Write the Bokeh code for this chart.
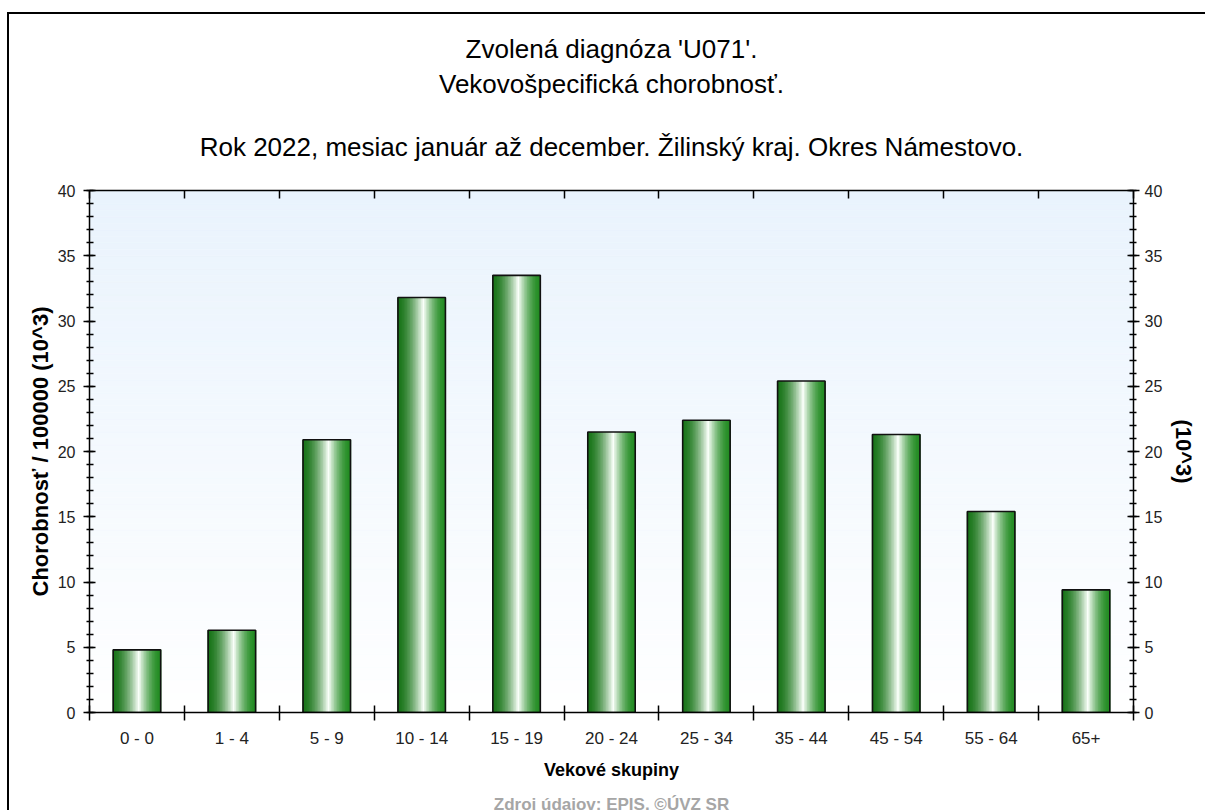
import numpy as np
from bokeh.plotting import figure
from bokeh.models import (Range1d, LinearAxis, FixedTicker, SingleIntervalTicker,
                          Title, ColumnDataSource)
from bokeh.embed import file_html
from bokeh.resources import INLINE

# ---------------- data ----------------
categories = ["0 - 0", "1 - 4", "5 - 9", "10 - 14", "15 - 19", "20 - 24",
              "25 - 34", "35 - 44", "45 - 54", "55 - 64", "65+"]
values = [4.8, 6.3, 20.9, 31.8, 33.5, 21.5, 22.4, 25.4, 21.3, 15.4, 9.4]
y_max = 40
y_step = 5
title_lines = ["Zvolená diagnóza 'U071'.",
               "Vekovošpecifická chorobnosť.",
               "Rok 2022, mesiac január až december. Žilinský kraj. Okres Námestovo."]
y_axis_label = "Chorobnosť / 100000 (10^3)"
y2_axis_label = "(10^3)"
x_axis_label = "Vekové skupiny"
source_note = "Zdroj údajov: EPIS, ©ÚVZ SR"

FONT = "Liberation Sans"

n = len(categories)
xs = list(range(n))

FRAME_W, FRAME_H = 1044, 522
BL, BR, BT, BB = 80, 72, 176, 98

p = figure(frame_width=FRAME_W, frame_height=FRAME_H,
           min_border_left=BL, min_border_right=BR, min_border_top=BT, min_border_bottom=BB,
           x_range=Range1d(-0.5, n - 0.5), y_range=Range1d(0, y_max),
           output_backend="svg", toolbar_location=None, x_axis_location=None,
           y_axis_location=None)
p.styles = {"border-left": "2px solid black", "border-top": "2px solid black",
            "margin-left": "7px", "margin-top": "12px"}
p.outline_line_color = None
p.xgrid.visible = False
p.ygrid.visible = False
p.background_fill_color = "white"
p.border_fill_color = "white"

# ---------------- background gradient ----------------
nstrip = 80
edges = np.linspace(0, y_max, nstrip + 1)
top_c = np.array([233, 243, 253])
bot_c = np.array([255, 255, 255])
cols = []
for i in range(nstrip):
    t = (i + 0.5) / nstrip
    c = bot_c + (top_c - bot_c) * t
    cols.append("#%02x%02x%02x" % tuple(int(round(v)) for v in c))
p.quad(left=-0.5, right=n - 0.5, bottom=edges[:-1], top=edges[1:],
       fill_color=cols, line_color=cols, line_width=0.5)

# ---------------- gradient bars ----------------
bar_w = 0.5
ns = 30
left_c = np.array([24, 116, 24])
right_c = np.array([36, 140, 36])
white_c = np.array([250, 255, 250])
peak = 0.55
sx, stop, scol = [], [], []
for i, v in zip(xs, values):
    for k in range(ns):
        t = (k + 0.5) / ns
        if t < peak:
            d = (peak - t) / peak
            base = left_c
        else:
            d = (t - peak) / (1 - peak)
            base = right_c
        w = (1 - d) ** 1.7
        c = base + (white_c - base) * w
        sx.append(i - bar_w / 2 + t * bar_w)
        stop.append(v)
        scol.append("#%02x%02x%02x" % tuple(int(round(q)) for q in c))
slices = ColumnDataSource(dict(x=sx, top=stop, color=scol))
sw = bar_w / ns
p.vbar(x="x", top="top", width=sw * 1.8, bottom=0, source=slices,
       fill_color="color", line_color=None)

bars = ColumnDataSource(dict(x=xs, top=values))
p.vbar(x="x", top="top", width=bar_w, bottom=0, source=bars,
       fill_alpha=0, line_color="#111111", line_width=1.6)

# ---------------- axes ----------------
boundaries = [i - 0.5 for i in range(n + 1)]
overrides = {i: c for i, c in enumerate(categories)}

xb = LinearAxis(ticker=FixedTicker(ticks=xs, minor_ticks=boundaries))
xb.major_label_overrides = overrides
xb.major_tick_in = 0
xb.major_tick_out = 0
xb.minor_tick_in = 7
xb.minor_tick_out = 8
xb.minor_tick_line_color = "black"
xb.minor_tick_line_width = 1.5
xb.axis_line_color = "black"
xb.axis_line_width = 1.5
xb.major_label_text_font = FONT
xb.major_label_text_font_size = "17px"
xb.major_label_text_color = "#222222"
xb.major_label_standoff = 8
xb.axis_label = x_axis_label
xb.axis_label_text_font = FONT
xb.axis_label_text_font_size = "18px"
xb.axis_label_text_font_style = "bold"
xb.axis_label_text_color = "black"
xb.axis_label_standoff = 9
p.add_layout(xb, "below")

p.add_layout(Title(text=source_note, align="center", offset=-6,
                   text_font=FONT, text_font_size="17px", text_font_style="bold",
                   text_color="#a6a6a6", standoff=21), "below")

xt = LinearAxis(ticker=FixedTicker(ticks=[], minor_ticks=boundaries))
xt.major_label_text_font_size = "0px"
xt.major_label_standoff = 0
xt.major_tick_in = 0
xt.major_tick_out = 0
xt.minor_tick_in = 8
xt.minor_tick_out = 0
xt.minor_tick_line_color = "black"
xt.minor_tick_line_width = 1.5
xt.axis_line_color = "black"
xt.axis_line_width = 1.5
p.add_layout(xt, "above")

# innermost title line keeps a gap to the plot area below it
title_standoffs = [3, 3, 58]
for line, so in reversed(list(zip(title_lines, title_standoffs))):
    p.add_layout(Title(text=line, align="center", offset=-9,
                       text_font=FONT, text_font_size="26px", text_font_style="normal",
                       text_color="black", standoff=so), "above")

def yaxis(label, standoff, label_standoff):
    ax = LinearAxis(ticker=SingleIntervalTicker(interval=y_step, num_minor_ticks=5))
    ax.major_tick_in = 6
    ax.major_tick_out = 6
    ax.minor_tick_in = 4
    ax.minor_tick_out = 3
    ax.major_tick_line_width = 1.5
    ax.minor_tick_line_width = 1.5
    ax.major_tick_line_color = "black"
    ax.minor_tick_line_color = "black"
    ax.axis_line_color = "black"
    ax.axis_line_width = 1.5
    ax.major_label_text_font = FONT
    ax.major_label_text_font_size = "16px"
    ax.major_label_text_color = "#222222"
    ax.major_label_standoff = standoff
    ax.axis_label = label
    ax.axis_label_text_font = FONT
    ax.axis_label_text_font_size = "22px"
    ax.axis_label_text_font_style = "bold"
    ax.axis_label_text_color = "black"
    ax.axis_label_standoff = label_standoff
    return ax

p.add_layout(yaxis(y_axis_label, 8, 2), "left")
p.add_layout(yaxis(y2_axis_label, 5, 6), "right")

open("out.html", "w").write(file_html(p, INLINE))
